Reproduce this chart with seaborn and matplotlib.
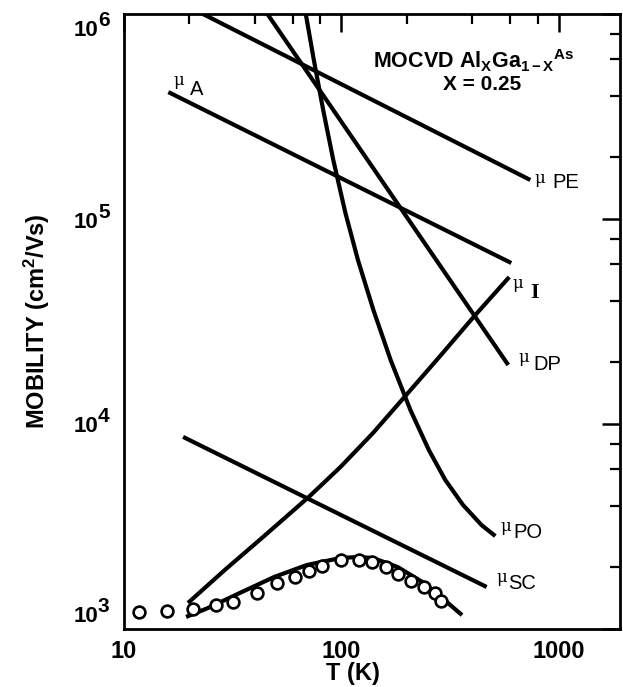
import numpy as np
import pandas as pd
import seaborn as sns
import matplotlib
matplotlib.use("Agg")
import matplotlib.pyplot as plt
from matplotlib.ticker import FixedLocator, NullFormatter
import matplotlib.transforms as mtransforms

# ---------------- data ----------------
T_A = [16.0, 605.0]
mu_A = [4.16e5, 6.1e4]

T_PE = [20.0, 740.0]
mu_PE = [1.08e6, 1.55e5]

T_DP = [44.0, 586.0]
mu_DP = [1.06e6, 1.94e4]

T_PO = [67.3, 68.6, 74.7, 82.5, 91.8, 104.4, 119.2, 140.4, 168.6, 207.8,
        252.6, 300.8, 362.6, 442.0, 511.0]
mu_PO = [1.12e6, 1.0e6, 5.97e5, 3.40e5, 1.94e5, 1.07e5, 6.31e4, 3.60e4,
         2.05e4, 1.17e4, 7.47e3, 5.33e3, 4.03e3, 3.21e3, 2.84e3]

T_I = [19.7, 29.1, 44.2, 70.8, 99.0, 139.8, 197.0, 282.0, 406.0, 592.0]
mu_I = [1340, 1941, 2845, 4406, 6165, 9035, 13700, 21200, 33300, 52100]

T_SC = [18.7, 466.0]
mu_SC = [8650, 1603]

T_fit = [19.3, 24.3, 34.8, 49.1, 69.3, 99.0, 119.5, 139.8, 181.6, 236.0, 291.0, 359.0]
mu_fit = [1145, 1265, 1514, 1794, 2051, 2220, 2245, 2220, 2006, 1695, 1416, 1169]

T_exp = [11.7, 15.8, 20.8, 26.5, 31.6, 41.1, 50.7, 61.1, 70.8, 81.1, 100.0,
         120.7, 138.3, 160.2, 181.6, 208.1, 240.9, 270.2, 287.7]
mu_exp = [1210, 1225, 1253, 1309, 1355, 1500, 1675, 1794, 1919, 2029, 2172,
          2172, 2122, 2006, 1855, 1714, 1602, 1500, 1371]

x_major = [10, 100, 1000]
x_major_labels = ["10", "100", "1000"]
x_minor = [20, 40, 60, 80, 200, 400, 600, 800]
y_major = [1e3, 1e4, 1e5, 1e6]
y_major_base = ["10", "10", "10", "10"]
y_major_exp = ["3", "4", "5", "6"]
y_minor = [m * d for d in (1e3, 1e4, 1e5) for m in (2, 4, 6, 8)]

# label positions: (mu text pos, subscript text pos, subscript)
curve_labels = [
    ((17.8, 4.76e5), (21.7, 4.30e5), "A"),
    ((820, 1.57e5), (1076, 1.50e5), "PE"),
    ((693, 2.10e4), (882, 1.96e4), "DP"),
    ((569, 3.15e3), (722, 2.94e3), "PO"),
    ((545, 1.79e3), (679, 1.67e3), "SC"),
]
label_I = ((651, 4.82e4), (778, 4.35e4), "I")

# ---------------- style ----------------
sns.set_style("white")
plt.rcParams["font.family"] = ["Liberation Sans", "DejaVu Sans"]
plt.rcParams["mathtext.fontset"] = "custom"
plt.rcParams["mathtext.rm"] = "Liberation Sans"
plt.rcParams["mathtext.bf"] = "Liberation Sans:bold"
plt.rcParams["mathtext.it"] = "Liberation Sans:italic"
for key in ("text.color", "axes.labelcolor", "xtick.color", "ytick.color",
            "axes.edgecolor"):
    plt.rcParams[key] = "black"

fig = plt.figure(figsize=(6.23, 6.87), dpi=100)
ax = fig.add_axes([124 / 623, 1 - 629 / 687, 496 / 623, 615 / 687])

lw = 3.0
for T, mu in [(T_A, mu_A), (T_PE, mu_PE), (T_DP, mu_DP), (T_PO, mu_PO),
              (T_I, mu_I), (T_SC, mu_SC), (T_fit, mu_fit)]:
    sns.lineplot(x=T, y=mu, sort=False, estimator=None, color="black",
                 linewidth=lw, ax=ax, solid_capstyle="butt",
                 solid_joinstyle="round")

sns.scatterplot(x=T_exp, y=mu_exp, marker="o", s=72, facecolor="white",
                edgecolor="black", linewidth=1.9, ax=ax, zorder=5)

ax.set_xscale("log")
ax.set_yscale("log")
ax.set_xlim(10, 1914)
ax.set_ylim(1e3, 1e6)

ax.xaxis.set_major_locator(FixedLocator(x_major))
ax.xaxis.set_minor_locator(FixedLocator(x_minor))
ax.set_xticklabels(x_major_labels, fontsize=17, fontweight="bold")
ax.xaxis.set_minor_formatter(NullFormatter())
ax.yaxis.set_major_locator(FixedLocator(y_major))
ax.yaxis.set_minor_locator(FixedLocator(y_minor))
ax.set_yticklabels([])
ax.yaxis.set_minor_formatter(NullFormatter())

ax.tick_params(which="major", direction="in", length=13, width=1.8,
               top=True, right=True, pad=8)
ax.tick_params(which="minor", direction="in", length=7, width=1.6,
               top=True, right=True)
for s in ax.spines.values():
    s.set_linewidth(2.0)
    s.set_color("black")

# y tick labels "10" with full-size raised exponent, as in the reference
ytrans = mtransforms.blended_transform_factory(ax.transAxes, ax.transData)
base_shift_px = [-13, 3, 3, 17]   # "10" centre relative to tick (down +)
x_join = (98 - 124) / 496
for v, b, e, dpx in zip(y_major, y_major_base, y_major_exp, base_shift_px):
    off_b = mtransforms.ScaledTranslation(0, -dpx / 100, fig.dpi_scale_trans)
    off_e = mtransforms.ScaledTranslation(0, -(dpx - 10) / 100, fig.dpi_scale_trans)
    ax.text(x_join, v, b, transform=ytrans + off_b, ha="right", va="center",
            fontsize=16, fontweight="bold", clip_on=False)
    ax.text(x_join, v, e, transform=ytrans + off_e, ha="left", va="center",
            fontsize=15, fontweight="bold", clip_on=False)

ax.set_xlabel("T (K)", fontsize=17, fontweight="bold")
ax.xaxis.set_label_coords((353 - 124) / 496, -(662 - 629) / 615)
ax.set_ylabel(r"MOBILITY (cm$^{\mathbf{2}}$/Vs)", fontsize=17, fontweight="bold")
ax.yaxis.set_label_coords(-(124 - 52) / 496, 0.5)

# title annotation
ax.text(0.705, 0.924, r"MOCVD Al$_{\mathbf{X}}$Ga$_{\mathbf{1-X}}$$^{\mathbf{As}}$",
        transform=ax.transAxes, ha="center", va="center", fontsize=15.5,
        fontweight="bold")
ax.text(0.722, 0.885, "X = 0.25", transform=ax.transAxes, ha="center",
        va="center", fontsize=15, fontweight="bold")

for (mpos, spos, sub) in curve_labels:
    ax.text(*mpos, "\u03bc", fontsize=12, ha="center", va="center",
            family=["DejaVu Serif"])
    ax.text(*spos, sub, fontsize=14.5, ha="center", va="center")
ax.text(*label_I[0], "\u03bc", fontsize=12, ha="center", va="center",
        family=["DejaVu Serif"])
ax.text(*label_I[1], label_I[2], fontsize=16, ha="center", va="center",
        family=["Liberation Serif", "DejaVu Serif"], fontweight="bold")

fig.savefig("out.png", dpi=100)
